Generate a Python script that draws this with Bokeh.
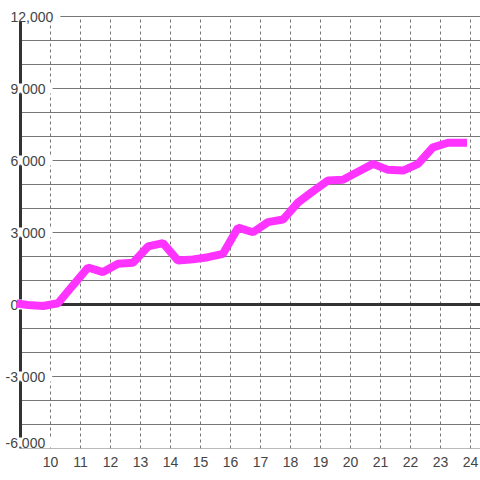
from bokeh.plotting import figure
from bokeh.models import LinearAxis, FixedTicker, Range1d
from bokeh.core.properties import value
from bokeh.embed import file_html
from bokeh.resources import INLINE

# ---- data ----
hours = [9.0, 9.25, 9.75, 10.25, 10.75, 11.25, 11.75, 12.25, 12.75, 13.25, 13.75,
         14.25, 14.75, 15.25, 15.75, 16.25, 16.75, 17.25, 17.75, 18.25, 18.75,
         19.25, 19.75, 20.25, 20.75, 21.25, 21.75, 22.25, 22.75, 23.25, 23.75]
values = [20, -20, -60, 50, 800, 1540, 1350, 1700, 1740, 2420, 2560,
          1830, 1880, 1970, 2110, 3200, 3010, 3430, 3540, 4250, 4720,
          5170, 5200, 5530, 5860, 5610, 5580, 5860, 6550, 6740, 6740]

x_ticks = list(range(10, 25))
y_label_ticks = [-6000, -3000, 0, 3000, 6000, 9000, 12000]
y_grid_ticks = list(range(-6000, 12001, 1000))
y_tick_labels = ["-6,000", "-3,000", "0", "3,000", "6,000", "9,000", "12,000"]

X0, X1 = 9, 24.3333          # axis position / plot right edge (hours)
Y0, Y1 = -6000, 12000        # value axis extent

TEXT = "#444444"
GRID = "#777777"
AXIS = "#333333"
FONT = "Liberation Sans"

p = figure(width=480, height=480,
           x_range=Range1d(8.3333, X1), y_range=Range1d(Y0, 12666.7),
           x_axis_type=None, y_axis_type=None,
           output_backend="svg", toolbar_location=None,
           min_border_left=0, min_border_right=0,
           min_border_top=0, min_border_bottom=32)
p.outline_line_color = None
p.background_fill_color = "white"
p.border_fill_color = "white"
p.xgrid.visible = False
p.ygrid.visible = False

# horizontal solid grid lines (every 1000)
p.segment(x0=X0, x1=X1, y0=y_grid_ticks, y1=y_grid_ticks,
          line_color=GRID, line_width=1)
# vertical dotted grid lines (every hour)
p.segment(x0=x_ticks, x1=x_ticks, y0=Y0, y1=Y1,
          line_color=GRID, line_width=1, line_dash="3 3")
# zero line
p.segment(x0=[X0], x1=[X1], y0=[0], y1=[0], line_color=AXIS, line_width=3)
# value axis line
p.segment(x0=[X0], x1=[X0], y0=[Y0], y1=[Y1], line_color=AXIS, line_width=3)

# value axis labels (white boxes interrupt the axis / grid lines)
x_off = [-18 if lab.startswith("-") else -13 for lab in y_tick_labels]
y_off = [-6 if t == Y0 else 0 for t in y_label_ticks]
p.text(x=[X0] * len(y_label_ticks), y=y_label_ticks, text=y_tick_labels,
       x_offset=x_off, y_offset=y_off,
       text_align="left", text_baseline="middle",
       text_font=value(FONT), text_font_size=value("14px"), text_color=TEXT,
       background_fill_color="white",
       padding=dict(left=3, right=7, top=0, bottom=0))

# hour axis
xaxis = LinearAxis(ticker=FixedTicker(ticks=x_ticks),
                   axis_line_color=None, major_tick_line_color=None,
                   minor_tick_line_color=None,
                   major_label_text_font=FONT, major_label_text_font_size="14px",
                   major_label_text_color=TEXT, major_label_standoff=2)
p.add_layout(xaxis, "below")

# series
p.line(hours, values, line_color="#ff33ff", line_width=8, line_cap="square")

open("out.html", "w").write(file_html(p, INLINE))
